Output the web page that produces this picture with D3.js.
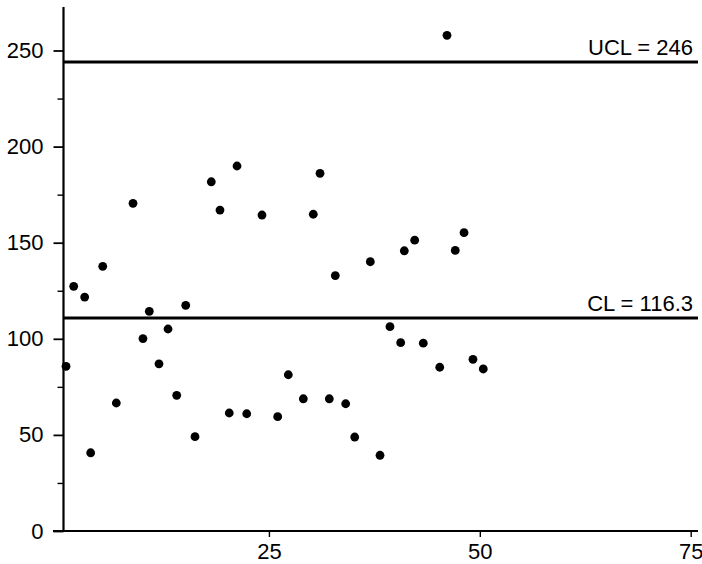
<!DOCTYPE html>
<html>
<head>
<meta charset="utf-8">
<script src="https://cdn.jsdelivr.net/npm/d3@7"></script>
<style>
  html, body { margin: 0; padding: 0; background: #fff; }
  svg { display: block; }
  text { font-family: "Liberation Sans", Arial, Helvetica, sans-serif; fill: #000; }
</style>
</head>
<body>
<svg id="chart" width="702" height="564"></svg>
<script>
// ---- data ----
const sampleX = [0.95, 1.86, 3.16, 3.87, 5.30, 6.91, 8.89, 10.07, 10.82, 11.97,
  13.04, 14.07, 15.14, 16.24, 18.17, 19.2, 20.3, 21.22, 22.37, 24.18,
  26.04, 27.3, 29.08, 30.26, 31.06, 32.16, 32.87, 34.1, 35.17, 37.02,
  38.17, 39.35, 40.62, 41.05, 42.28, 43.3, 45.25, 46.11, 47.09, 48.13,
  49.19, 50.41];
const sampleY = [85.7, 127.3, 121.7, 40.7, 137.7, 66.6, 170.5, 100.1, 114.3, 87.0,
  105.1, 70.6, 117.4, 49.1, 181.7, 167.0, 61.4, 189.9, 61.0, 164.4,
  59.5, 81.3, 68.8, 164.8, 186.1, 68.8, 132.9, 66.2, 48.9, 140.1,
  39.4, 106.3, 98.0, 145.8, 151.3, 97.7, 85.2, 257.9, 146.0, 155.2,
  89.3, 84.3];
const limitLabels = ["UCL = 246", "CL = 116.3"];
const limitValues = [244.0, 110.8];          // where the lines are drawn in the picture
const yMajorTicks = [0, 50, 100, 150, 200, 250];
const yMinorTicks = [25, 75, 125, 175, 225];
const xTicks = [25, 50, 75];
const xDomain = [0.65, 75];
const yDomain = [0, 250];

// ---- drawing ----
const svg = d3.select("#chart");
const x = d3.scaleLinear().domain(xDomain).range([63.5, 690.7]);
const y = d3.scaleLinear().domain(yDomain).range([531, 50.5]);

const axisColor = "#000";
const fontSize = 22;

// y axis line
svg.append("line")
  .attr("x1", x(xDomain[0])).attr("x2", x(xDomain[0]))
  .attr("y1", 7).attr("y2", y(0))
  .attr("stroke", axisColor).attr("stroke-width", 2.2);

// x axis line (extends left to meet the 0 tick)
svg.append("line")
  .attr("x1", 53).attr("x2", 698)
  .attr("y1", y(0)).attr("y2", y(0))
  .attr("stroke", axisColor).attr("stroke-width", 2.2);

// y ticks
const yAxis = d3.axisLeft(y).tickValues(yMajorTicks).tickSize(10).tickPadding(10)
  .tickFormat(d3.format("d"));
const gy = svg.append("g").attr("transform", `translate(${x(xDomain[0])},0)`).call(yAxis);
gy.select(".domain").remove();
gy.selectAll(".tick line").attr("stroke", axisColor).attr("stroke-width", 1.8);
gy.selectAll(".tick text").attr("font-size", fontSize).attr("fill", "#000")
  .style("font-family", "'Liberation Sans', Arial, sans-serif");

const yMinor = d3.axisLeft(y).tickValues(yMinorTicks).tickSize(6).tickFormat("");
const gym = svg.append("g").attr("transform", `translate(${x(xDomain[0])},0)`).call(yMinor);
gym.select(".domain").remove();
gym.selectAll(".tick line").attr("stroke", axisColor).attr("stroke-width", 1.4);

// x ticks
const xAxis = d3.axisBottom(x).tickValues(xTicks).tickSize(6).tickPadding(6)
  .tickFormat(d3.format("d"));
const gx = svg.append("g").attr("transform", `translate(0,${y(0)})`).call(xAxis);
gx.select(".domain").remove();
gx.selectAll(".tick line").attr("stroke", axisColor).attr("stroke-width", 1.4);
gx.selectAll(".tick text").attr("font-size", fontSize).attr("fill", "#000")
  .style("font-family", "'Liberation Sans', Arial, sans-serif");

// control lines
const limits = limitLabels.map((l, i) => ({ label: l, value: limitValues[i] }));
svg.selectAll("line.limit").data(limits).enter().append("line")
  .attr("class", "limit")
  .attr("x1", x(xDomain[0])).attr("x2", 698)
  .attr("y1", d => y(d.value)).attr("y2", d => y(d.value))
  .attr("stroke", "#000").attr("stroke-width", 3);

svg.selectAll("text.limit").data(limits).enter().append("text")
  .attr("class", "limit")
  .attr("x", 693).attr("y", d => y(d.value) - 7)
  .attr("text-anchor", "end")
  .attr("font-size", fontSize)
  .text(d => d.label);

// points
const pts = sampleX.map((v, i) => ({ x: v, y: sampleY[i] }));
svg.selectAll("circle.pt").data(pts).enter().append("circle")
  .attr("class", "pt")
  .attr("cx", d => x(d.x)).attr("cy", d => y(d.y))
  .attr("r", 4.4).attr("fill", "#000");
</script>
</body>
</html>
